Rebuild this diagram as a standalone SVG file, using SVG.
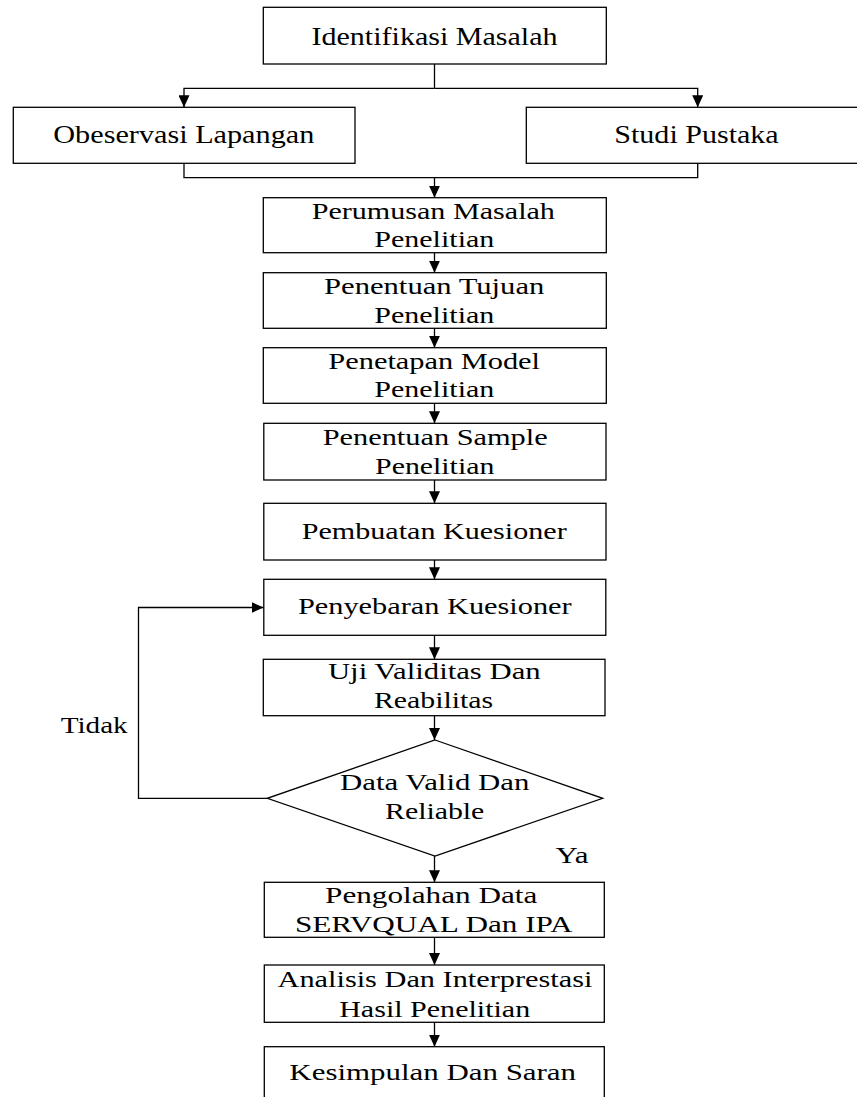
<svg xmlns="http://www.w3.org/2000/svg" width="857" height="1097" viewBox="0 0 857 1097">
<style>
.box{fill:#fff;stroke:#000;stroke-width:1.3}
.t{font-family:"Liberation Serif","Times New Roman",serif;font-size:24px;fill:#000;text-anchor:middle}
.big{font-size:25px}
.c{fill:none;stroke:#000;stroke-width:1.3}
</style>
<defs>
<marker id="ah" markerUnits="userSpaceOnUse" markerWidth="12" markerHeight="11" refX="12" refY="5.5" orient="auto">
<path d="M0,0 L12,5.5 L0,11 z" fill="#000"/>
</marker>
</defs>
<rect width="857" height="1097" fill="#fff"/>
<g id="connectors">
<path class="c" d="M434.5,64 V88.3"/>
<path class="c" d="M434.5,88.3 H184 V107.3" marker-end="url(#ah)"/>
<path class="c" d="M434.5,88.3 H697.7 V107.3" marker-end="url(#ah)"/>
<path class="c" d="M184,163.3 V177.7 H697.7 V163.3"/>
<path class="c" d="M434.5,177.7 V197.7" marker-end="url(#ah)"/>
<path class="c" d="M434.5,252.7 V272.7" marker-end="url(#ah)"/>
<path class="c" d="M434.5,328.3 V347.7" marker-end="url(#ah)"/>
<path class="c" d="M434.5,403.3 V423.3" marker-end="url(#ah)"/>
<path class="c" d="M434.5,480 V503.3" marker-end="url(#ah)"/>
<path class="c" d="M434.5,560 V579.3" marker-end="url(#ah)"/>
<path class="c" d="M434.5,635.3 V659.3" marker-end="url(#ah)"/>
<path class="c" d="M434.5,715.7 V740" marker-end="url(#ah)"/>
<path class="c" d="M267.3,798.3 H138.5 V607.5 H263.5" marker-end="url(#ah)"/>
<path class="c" d="M434.5,856 V882.3" marker-end="url(#ah)"/>
<path class="c" d="M434.5,937.3 V965" marker-end="url(#ah)"/>
<path class="c" d="M434.5,1022.3 V1046.7" marker-end="url(#ah)"/>
<text class="t" x="94.2" y="732.7" textLength="67" lengthAdjust="spacingAndGlyphs">Tidak</text>
<text class="t" x="572" y="863.3" textLength="33" lengthAdjust="spacingAndGlyphs">Ya</text>
</g>
<g id="n1">
<rect class="box" x="263.3" y="7.3" width="343" height="56.7"/>
<text class="t big" x="434.5" y="44.5" textLength="246" lengthAdjust="spacingAndGlyphs">Identifikasi Masalah</text>
</g>
<g id="n2">
<rect class="box" x="13.3" y="107.3" width="341.7" height="56"/>
<text class="t big" x="183.8" y="143.3" textLength="261" lengthAdjust="spacingAndGlyphs">Obeservasi Lapangan</text>
</g>
<g id="n3">
<rect class="box" x="526.3" y="107.3" width="340" height="56"/>
<text class="t big" x="696.5" y="143.3" textLength="164.4" lengthAdjust="spacingAndGlyphs">Studi Pustaka</text>
</g>
<g id="n4">
<rect class="box" x="263.3" y="197.7" width="343" height="55"/>
<text class="t" x="433.3" y="218.5" textLength="243.3" lengthAdjust="spacingAndGlyphs">Perumusan Masalah</text>
<text class="t" x="434.3" y="246.7" textLength="120" lengthAdjust="spacingAndGlyphs">Penelitian</text>
</g>
<g id="n5">
<rect class="box" x="263.3" y="272.7" width="343" height="55.6"/>
<text class="t" x="434.2" y="294.3" textLength="220.3" lengthAdjust="spacingAndGlyphs">Penentuan Tujuan</text>
<text class="t" x="434.3" y="322.7" textLength="120" lengthAdjust="spacingAndGlyphs">Penelitian</text>
</g>
<g id="n6">
<rect class="box" x="263.3" y="347.7" width="343" height="55.6"/>
<text class="t" x="434.2" y="369" textLength="211.7" lengthAdjust="spacingAndGlyphs">Penetapan Model</text>
<text class="t" x="434.3" y="397.3" textLength="120" lengthAdjust="spacingAndGlyphs">Penelitian</text>
</g>
<g id="n7">
<rect class="box" x="263.8" y="423.3" width="342.2" height="56.7"/>
<text class="t" x="435.2" y="445" textLength="225" lengthAdjust="spacingAndGlyphs">Penentuan Sample</text>
<text class="t" x="434.7" y="474" textLength="119.3" lengthAdjust="spacingAndGlyphs">Penelitian</text>
</g>
<g id="n8">
<rect class="box" x="263.8" y="503.3" width="342.2" height="56.7"/>
<text class="t" x="434.2" y="539.3" textLength="265" lengthAdjust="spacingAndGlyphs">Pembuatan Kuesioner</text>
</g>
<g id="n9">
<rect class="box" x="263.8" y="579.3" width="342" height="56"/>
<text class="t" x="434.8" y="614" textLength="273.7" lengthAdjust="spacingAndGlyphs">Penyebaran Kuesioner</text>
</g>
<g id="n10">
<rect class="box" x="263.3" y="659.3" width="341.7" height="56.4"/>
<text class="t" x="434.3" y="679.3" textLength="212.7" lengthAdjust="spacingAndGlyphs">Uji Validitas Dan</text>
<text class="t" x="433.5" y="708.3" textLength="119" lengthAdjust="spacingAndGlyphs">Reabilitas</text>
</g>
<g id="n11">
<polygon class="box" points="435,740 602.7,798.3 435,856 267.3,798.3"/>
<text class="t" x="434.7" y="790" textLength="189.3" lengthAdjust="spacingAndGlyphs">Data Valid Dan</text>
<text class="t" x="434.7" y="819.3" textLength="99.3" lengthAdjust="spacingAndGlyphs">Reliable</text>
</g>
<g id="n12">
<rect class="box" x="264.3" y="882.3" width="340" height="55"/>
<text class="t" x="431.2" y="903.3" textLength="212.3" lengthAdjust="spacingAndGlyphs">Pengolahan Data</text>
<text class="t" x="433.8" y="931.7" textLength="277.7" lengthAdjust="spacingAndGlyphs">SERVQUAL Dan IPA</text>
</g>
<g id="n13">
<rect class="box" x="264.3" y="965" width="340" height="57.3"/>
<text class="t" x="435" y="987" textLength="315" lengthAdjust="spacingAndGlyphs">Analisis Dan Interprestasi</text>
<text class="t" x="434.7" y="1016.5" textLength="191" lengthAdjust="spacingAndGlyphs">Hasil Penelitian</text>
</g>
<g id="n14">
<rect class="box" x="264.3" y="1046.7" width="340" height="70"/>
<text class="t" x="432.7" y="1080" textLength="286.7" lengthAdjust="spacingAndGlyphs">Kesimpulan Dan Saran</text>
</g>
</svg>
